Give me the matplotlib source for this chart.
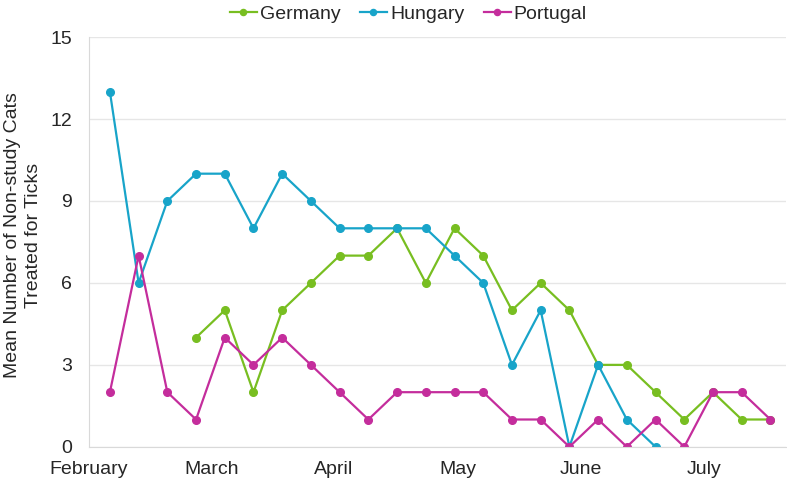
import matplotlib.pyplot as plt

plt.rcParams['font.family'] = ['Liberation Sans', 'DejaVu Sans']

# Weekly observations (week index 0..23)
weeks = list(range(24))

germany = [None, None, None, 4, 5, 2, 5, 6, 7, 7, 8, 6, 8, 7, 5, 6, 5, 3, 3, 2, 1, 2, 1, 1]
hungary = [13, 6, 9, 10, 10, 8, 10, 9, 8, 8, 8, 8, 7, 6, 3, 5, 0, 3, 1, 0]
portugal = [2, 7, 2, 1, 4, 3, 4, 3, 2, 1, 2, 2, 2, 2, 1, 1, 0, 1, 0, 1, 0, 2, 2, 1]

months = ['February', 'March', 'April', 'May', 'June', 'July']
month_pos = [-0.73, 3.55, 7.8, 12.12, 16.4, 20.7]

green = '#78BE21'
blue = '#18A4C9'
magenta = '#C42D9C'

fig = plt.figure(figsize=(7.87, 4.82), dpi=100)
ax = fig.add_axes([0.113, 0.073, 0.886, 0.85])

g_x = [w for w, v in zip(weeks, germany) if v is not None]
g_y = [v for v in germany if v is not None]
ax.plot(g_x, g_y, color=green, linewidth=1.6, marker='o', markersize=5.5, label='Germany')
ax.plot(weeks[:len(hungary)], hungary, color=blue, linewidth=1.6, marker='o', markersize=5.5, label='Hungary')
ax.plot(weeks, portugal, color=magenta, linewidth=1.6, marker='o', markersize=5.5, label='Portugal')

ax.set_ylim(0, 15)
ax.set_yticks([0, 3, 6, 9, 12, 15])
ax.set_xlim(-0.73, 23.55)
ax.set_xticks(month_pos)
ax.set_xticklabels(months)

ax.grid(axis='y', color='#e6e6e6', linewidth=1)
ax.set_axisbelow(True)
for s in ['top', 'right']:
    ax.spines[s].set_visible(False)
ax.spines['left'].set_color('#d9d9d9')
ax.spines['bottom'].set_color('#d9d9d9')
ax.tick_params(axis='both', length=0, labelsize=14, colors='#262626')
ax.tick_params(axis='y', pad=12)
ax.tick_params(axis='x', pad=10)

ax.set_ylabel('Mean Number of Non-study Cats\nTreated for Ticks', fontsize=14,
              color='#262626', linespacing=1.3)
ax.yaxis.set_label_coords(-0.068, 0.517)

ax.legend(loc='upper center', bbox_to_anchor=(0.458, 1.12), ncol=3, frameon=False,
          fontsize=14, handlelength=1.4, handletextpad=0.15, columnspacing=1.0,
          markerscale=0.8, labelcolor='#262626')

plt.savefig('out.png', dpi=100)
